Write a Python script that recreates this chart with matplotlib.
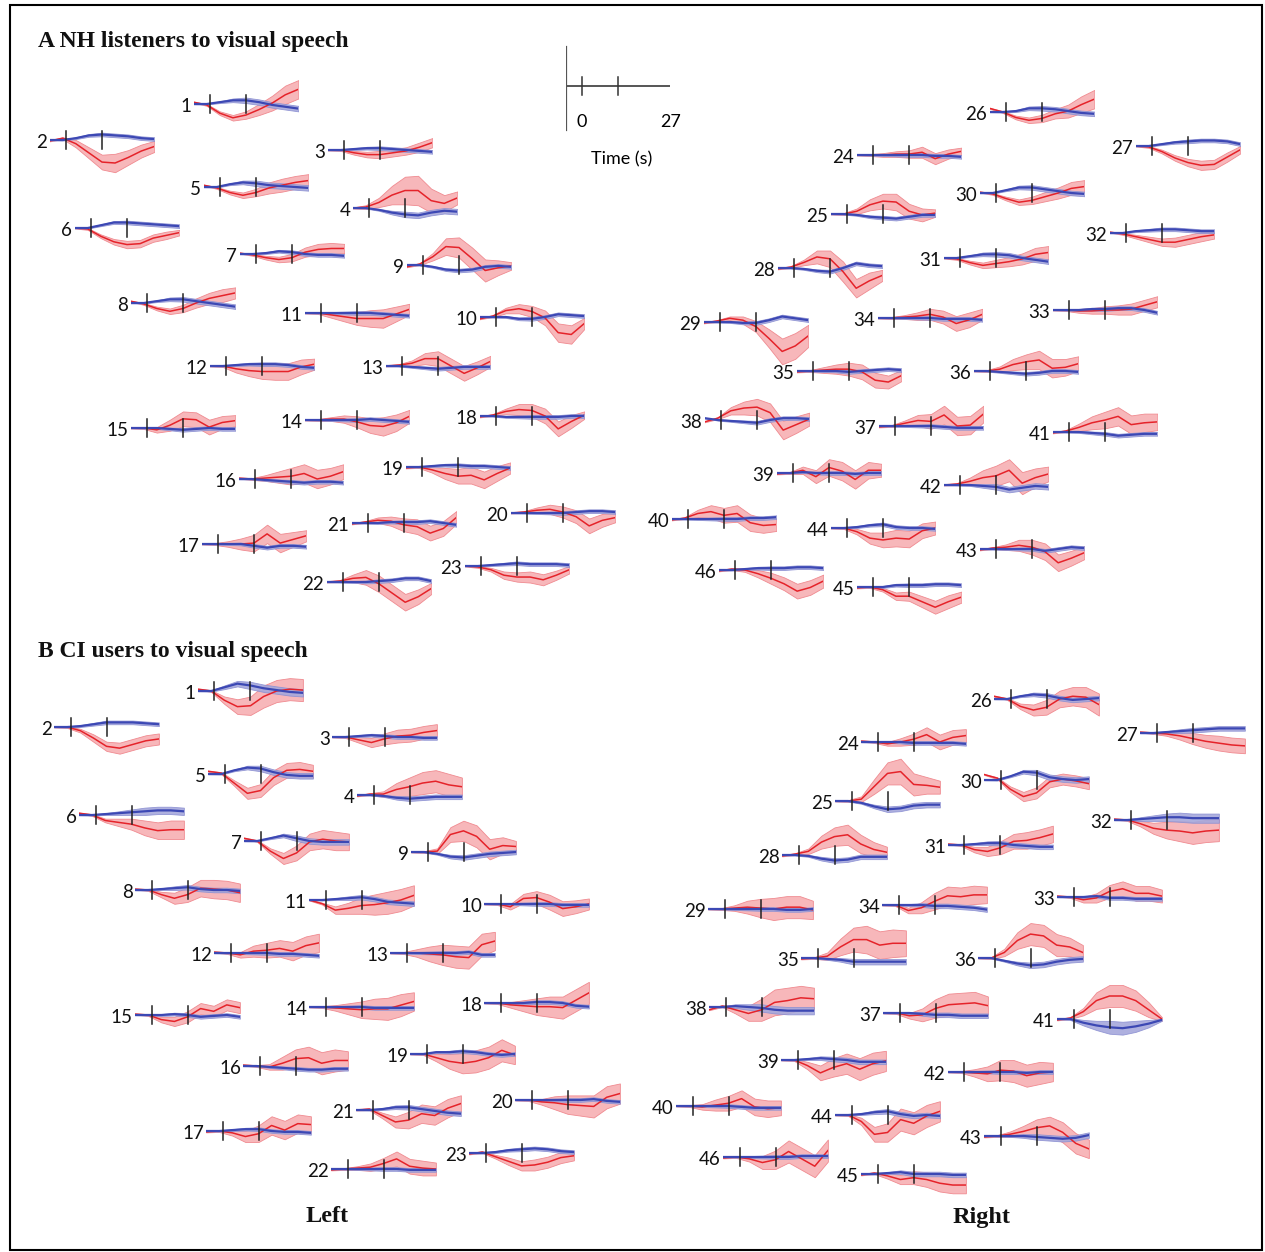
import numpy as np
import matplotlib.pyplot as plt
from matplotlib.patches import Rectangle

W, H = 1265, 1252

# time axis of every channel trace (s); stimulus on/off marks
times = [-5, -1, 3, 7, 11, 15, 19, 23, 27]
stim_on, stim_off = 0, 11
channels = list(range(1, 47))

# ---- A: NH listeners, HbO (red) / HbR (blue) means and standard errors ----
nh_hbo = [
    [2, -1, -10, -15, -12, -6, 1, 10, 16], [-1, 2, -4, -14, -24, -25, -19, -12, -7],
    [0, 0, -3, -5, -5, -3, -1, 3, 8], [0, 1, 6, 14, 19, 19, 8, 5, 11],
    [2, -1, -6, -9, -6, -1, 2, 5, 7], [0, -1, -9, -15, -18, -17, -11, -8, -5],
    [1, -1, -4, -6, -4, 2, 5, 6, 6], [2, -1, -6, -9, -6, 0, 5, 8, 11],
    [-2, 1, 9, 20, 19, 7, -6, -3, -1], [-2, 1, 7, 9, 6, -1, -17, -19, -7],
    [0, 0, -2, -4, -6, -6, -6, -1, 4], [0, 0, -3, -5, -6, -6, -6, -1, 2],
    [0, 1, 3, 8, 8, 0, -8, -2, 5], [0, 0, 1, 1, -2, -6, -7, -3, 4],
    [0, 0, -2, 3, 10, 9, 1, 6, 8], [1, 0, 1, 2, 3, 6, 0, 3, 8],
    [0, 0, 0, 0, 1, 11, 1, 5, 9], [-1, 1, 5, 7, 6, 0, -14, -6, 1],
    [-1, 0, -3, -7, -10, -9, -14, -7, -1], [0, 1, 3, 4, 1, -4, -14, -8, -5],
    [-1, 1, 3, 2, -2, -4, -11, -6, 6], [0, 1, 4, 5, -2, -12, -22, -16, -7],
    [0, -1, -4, -10, -12, -12, -15, -10, -4], [0, 0, 0, 1, 1, 3, -4, 1, 4],
    [0, 0, 3, 10, 14, 13, 3, -1, 1], [4, 0, -6, -9, -7, -2, 1, 8, 14],
    [0, -1, -6, -13, -18, -21, -20, -12, -4], [-1, 1, 6, 12, 10, -4, -22, -14, -8],
    [-1, 1, 4, 2, -5, -18, -32, -26, -15], [1, -1, -6, -10, -8, -4, 0, 5, 7],
    [0, -1, -5, -8, -6, -4, -1, 4, 6], [1, -1, -4, -7, -10, -10, -7, -4, -2],
    [0, 0, -1, -1, 0, 0, 1, 5, 9], [0, 0, 1, 2, 4, 1, -6, -2, 4],
    [-1, 0, 1, 2, 2, -1, -10, -12, -5], [0, 0, 2, 7, 10, 12, 3, 4, 8],
    [-1, 0, 3, 6, 5, 12, 0, 1, 13], [-2, 2, 10, 13, 14, 8, -11, -5, 1],
    [-1, 0, 3, -4, 6, 2, -7, 3, 3], [-1, 1, 6, 8, 4, 6, -4, -7, -6],
    [-1, 1, 5, 10, 13, 17, 8, 10, 11], [0, 1, 4, 8, 10, 16, 2, 8, 12],
    [-1, 1, 2, 4, 2, -3, -15, -10, -4], [0, 0, -4, -11, -13, -11, -12, -3, 0],
    [-1, 0, -3, -10, -10, -16, -22, -16, -11], [-1, 1, 0, -4, -9, -15, -23, -19, -12],
]
nh_hbr = [
    [0, 0, 2, 4, 4, 2, -1, -3, -5], [0, 0, 2, 5, 6, 5, 4, 2, 1],
    [0, 0, 1, 2, 2, 1, 0, -1, -2], [0, 0, -2, -5, -7, -8, -5, -3, -4],
    [0, 0, 3, 5, 4, 2, 1, 0, -1], [0, 0, 3, 6, 6, 5, 4, 3, 2],
    [0, 0, 1, 3, 2, 0, -1, -1, -2], [0, 0, 2, 4, 4, 2, 0, -2, -4],
    [0, 0, -2, -5, -6, -5, -2, -1, -2], [0, 0, 0, -2, -2, 0, 3, 2, 1],
    [0, 0, 0, 0, 0, 0, -1, -2, -3], [0, 0, 1, 2, 2, 2, 1, -1, -2],
    [0, 0, -1, -2, -3, -2, -1, -1, -1], [0, 0, 0, 0, 0, 1, 0, -1, -2],
    [0, 0, 0, -1, -2, -1, 0, -1, -1], [0, 0, -1, -2, -3, -4, -3, -3, -4],
    [0, 0, 0, 0, -2, -4, -2, -2, -3], [0, 0, -1, -1, -1, -1, -1, 0, 0],
    [0, 0, 1, 2, 2, 1, 1, 0, -1], [0, 0, 0, 0, 0, 1, 2, 2, 1],
    [0, 0, 0, 1, 1, 1, 2, 0, -2], [0, 0, 0, 0, 1, 2, 4, 4, 1],
    [0, 0, 1, 2, 3, 2, 2, 2, 1], [0, 0, 0, 0, 0, 0, -1, -1, -2],
    [0, 0, -1, -3, -4, -5, -3, -1, -1], [0, 0, 1, 4, 4, 3, 1, -1, -2],
    [0, 0, 2, 4, 5, 6, 6, 5, 2], [0, 0, -1, -3, -4, 0, 5, 3, 2],
    [0, 0, 0, -1, -1, 2, 6, 4, 2], [0, 0, 3, 6, 6, 4, 2, 0, -1],
    [0, 0, 2, 4, 4, 3, 0, -2, -4], [0, 0, 2, 3, 4, 4, 3, 2, 2],
    [0, 0, 0, 1, 1, 2, 2, 0, -3], [0, 0, 0, 0, 0, -1, -1, -1, -2],
    [0, 0, 0, 0, -1, 0, 1, 2, 1], [0, 0, -1, -2, -3, -2, 0, 0, -1],
    [0, 0, 0, 0, 0, -1, -2, -2, -2], [2, 0, -1, -2, -3, 0, 2, 2, 1],
    [0, 0, 1, 0, 0, 0, -1, 0, 0], [0, 0, 0, 0, 0, 0, 1, 1, 2],
    [0, 0, 0, -1, -2, -4, -3, -2, -2], [0, 0, 0, -1, -2, -5, -3, -1, -2],
    [0, 0, 0, 0, 0, -2, 0, 2, 1], [0, 0, 1, 3, 4, 1, 0, 0, -1],
    [0, 0, 0, 2, 2, 2, 3, 3, 2], [0, 0, 1, 2, 2, 2, 3, 3, 2],
]
nh_hbo_se = [
    [0.5, 1, 2, 3, 4, 6, 8, 10, 10], [0.5, 1, 4, 6, 8, 10, 8, 7, 6],
    [0.5, 1, 2, 3, 4, 4, 4, 5, 5], [0.5, 2, 5, 10, 15, 16, 13, 9, 7],
    [0.5, 1, 2, 3, 4, 6, 7, 7, 7], [0.5, 1, 2, 3, 4, 4, 4, 4, 3],
    [0.5, 1, 2, 3, 4, 5, 6, 6, 5], [0.5, 1, 2, 3, 4, 5, 6, 7, 6],
    [0.5, 1, 4, 9, 11, 12, 12, 8, 4], [0.5, 1, 3, 5, 6, 8, 10, 10, 6],
    [0.5, 1, 3, 5, 7, 9, 10, 8, 6], [0.5, 1, 4, 6, 8, 9, 9, 8, 6],
    [0.5, 1, 3, 6, 8, 8, 8, 7, 6], [0.5, 1, 2, 4, 6, 8, 10, 9, 7],
    [0.5, 1, 3, 6, 8, 8, 8, 7, 6], [0.5, 1, 3, 6, 9, 10, 10, 9, 8],
    [0.5, 1, 3, 6, 9, 10, 10, 8, 6], [0.5, 1, 3, 6, 7, 8, 8, 7, 4],
    [0.5, 1, 3, 6, 8, 9, 9, 8, 6], [0.5, 1, 3, 5, 6, 7, 8, 7, 5],
    [0.5, 1, 3, 5, 7, 8, 8, 8, 7], [0.5, 1, 4, 8, 9, 9, 9, 8, 6],
    [0.5, 1, 2, 4, 5, 6, 6, 5, 4], [0.5, 1, 2, 3, 4, 6, 6, 5, 4],
    [0.5, 1, 3, 6, 8, 9, 8, 7, 4], [0.5, 1, 2, 3, 4, 5, 7, 9, 10],
    [0.5, 1, 2, 3, 4, 5, 5, 5, 4], [0.5, 1, 3, 7, 9, 11, 10, 9, 6],
    [0.5, 1, 2, 4, 6, 10, 14, 14, 12], [0.5, 1, 2, 3, 4, 5, 6, 7, 7],
    [0.5, 1, 2, 3, 4, 5, 6, 7, 7], [0.5, 1, 2, 3, 4, 5, 5, 5, 4],
    [0.5, 1, 2, 3, 4, 5, 6, 6, 6], [0.5, 1, 2, 4, 6, 7, 8, 8, 6],
    [0.5, 1, 3, 5, 7, 8, 8, 7, 6], [0.5, 1, 3, 6, 8, 10, 10, 9, 8],
    [0.5, 1, 3, 6, 8, 10, 10, 10, 9], [0.5, 1, 4, 7, 9, 10, 10, 9, 7],
    [0.5, 1, 4, 7, 9, 10, 10, 9, 7], [0.5, 1, 4, 7, 8, 9, 9, 8, 7],
    [0.5, 1, 4, 7, 9, 10, 10, 10, 9], [0.5, 1, 4, 8, 11, 12, 12, 10, 8],
    [0.5, 1, 3, 6, 8, 9, 9, 8, 7], [0.5, 1, 3, 6, 8, 9, 9, 8, 7],
    [0.5, 1, 2, 4, 5, 6, 7, 7, 6], [0.5, 1, 2, 4, 6, 7, 8, 8, 7],
]
nh_hbr_se = [
    [0.3, 0.6, 1, 2, 3, 3, 3, 3, 3], [0.3, 0.6, 1, 1.5, 2, 2, 2, 2, 2],
    [0.3, 0.6, 1, 1.5, 2, 2, 2, 2, 2], [0.3, 0.6, 1, 2, 3, 3, 3, 3, 3],
    [0.3, 0.6, 1, 2, 3, 3, 3, 3, 3], [0.3, 0.6, 1, 1.5, 2, 2, 2, 2, 2],
    [0.3, 0.6, 1, 1.5, 2, 2, 2, 2, 2], [0.3, 0.6, 1, 2, 2.5, 2.5, 2.5, 2.5, 2.5],
    [0.3, 0.6, 1, 1.5, 2, 2, 2, 2, 2], [0.3, 0.6, 1, 1.5, 2, 2, 2, 2, 2],
    [0.3, 0.6, 1, 1.5, 2, 2, 2, 2, 2], [0.3, 0.6, 1, 1.5, 2, 2, 2, 2, 2],
    [0.3, 0.6, 1, 1.5, 2, 2, 2, 2, 2], [0.3, 0.6, 1, 1.5, 2, 2, 2, 2, 2],
    [0.3, 0.6, 1, 1.5, 2, 2, 2, 2, 2], [0.3, 0.6, 1, 1.5, 2, 2, 2, 2, 2],
    [0.3, 0.6, 1, 1.5, 2, 2, 2, 2, 2], [0.3, 0.6, 1, 1.5, 2, 2, 2, 2, 2],
    [0.3, 0.6, 1, 1.5, 2, 2, 2, 2, 2], [0.3, 0.6, 1, 1.5, 2, 2, 2, 2, 2],
    [0.3, 0.6, 1, 1.5, 2, 2, 2, 2, 2], [0.3, 0.6, 1, 1.5, 2, 2, 2, 2, 2],
    [0.3, 0.6, 1, 1.5, 2, 2, 2, 2, 2], [0.3, 0.6, 1, 1.5, 2, 2, 2, 2, 2],
    [0.3, 0.6, 1, 1.5, 2, 2, 2, 2, 2], [0.3, 0.6, 1, 2, 2.5, 2.5, 2.5, 2.5, 2.5],
    [0.3, 0.6, 1, 1.5, 2, 2, 2, 2, 2], [0.3, 0.6, 1, 1.5, 2, 2, 2, 2, 2],
    [0.3, 0.6, 1, 1.5, 2, 2, 2, 2, 2], [0.3, 0.6, 1, 2, 2.5, 2.5, 2.5, 2.5, 2.5],
    [0.3, 0.6, 1, 2, 2.5, 2.5, 2.5, 2.5, 2.5], [0.3, 0.6, 1, 1.5, 2, 2, 2, 2, 2],
    [0.3, 0.6, 1, 1.5, 2, 2, 2, 2, 2], [0.3, 0.6, 1, 1.5, 2, 2, 2, 2, 2],
    [0.3, 0.6, 1, 1.5, 2, 2, 2, 2, 2], [0.3, 0.6, 1, 1.5, 2, 2, 2, 2, 2],
    [0.3, 0.6, 1, 1.5, 2, 2, 2, 2, 2], [0.3, 0.6, 1, 1.5, 2, 2, 2, 2, 2],
    [0.3, 0.6, 1, 1.5, 2, 2, 2, 2, 2], [0.3, 0.6, 1, 1.5, 2, 2, 2, 2, 2],
    [0.3, 0.6, 1, 1.5, 2, 2, 2, 2, 2], [0.3, 0.6, 1, 2, 3, 3, 3, 3, 3],
    [0.3, 0.6, 1, 1.5, 2, 2, 2, 2, 2], [0.3, 0.6, 1, 1.5, 2, 2, 2, 2, 2],
    [0.3, 0.6, 1, 1.5, 2, 2, 2, 2, 2], [0.3, 0.6, 1, 1.5, 2, 2, 2, 2, 2],
]

# ---- B: CI users ----
ci_hbo = [
    [2, 0, -10, -17, -16, -6, 0, 2, 1], [0, 0, -4, -12, -21, -23, -19, -15, -13],
    [0, 0, -3, -6, -2, 1, 2, 5, 7], [-1, 1, 1, 6, 9, 13, 15, 11, 9],
    [3, 1, -10, -21, -18, -4, 4, 5, 3], [2, 0, -6, -8, -10, -14, -17, -16, -16],
    [3, 0, -11, -19, -13, -1, 2, 0, -1], [1, 0, -5, -9, -5, 2, 1, 0, -3],
    [0, 0, 1, 19, 23, 17, 3, 7, 6], [0, 0, -3, 6, 7, 2, -5, -3, 0],
    [0, -4, -11, -9, -6, -5, -3, 0, 5], [1, 0, -2, 2, 3, 5, 2, 8, 11],
    [0, 0, 0, -1, -2, -4, -5, 9, 13], [0, 0, -1, -2, -3, -2, -2, 2, 6],
    [1, 0, -5, -7, -2, 7, 4, 11, 8], [1, 0, -1, 3, 8, 9, 3, 6, 6],
    [-1, 0, -2, -6, -3, 6, 1, 8, 7], [0, 0, -2, -3, -4, -4, -5, 3, 11],
    [0, 0, -4, -8, -10, -8, -4, 4, -1], [0, 0, -2, -3, -5, -6, -7, 3, 7],
    [0, 1, -6, -13, -11, -4, -6, 2, 7], [-1, 0, 1, 2, 6, 11, 3, 1, 0],
    [-1, 1, -4, -9, -14, -13, -10, -5, -3], [1, 0, -2, 0, 3, 8, 0, 5, 7],
    [0, 0, 2, 16, 30, 32, 18, 17, 15], [3, 0, -8, -12, -9, 0, 3, 2, -6],
    [1, 0, -1, -3, -6, -9, -11, -13, -14], [-1, 1, 4, 14, 20, 22, 12, 6, 3],
    [0, 0, 1, 2, 1, 0, 2, 2, -1], [6, 2, -10, -18, -14, -2, 1, -1, -4],
    [1, 0, -5, -7, -3, 4, 5, 8, 12], [1, 0, -4, -9, -11, -12, -14, -12, -11],
    [1, 0, -3, -1, 6, 9, 4, 4, 1], [0, 0, -6, -3, 4, 10, 9, 11, 11],
    [-1, 0, 2, 12, 20, 20, 14, 16, 16], [0, 0, 6, 19, 26, 24, 14, 12, 6],
    [0, 0, -3, -2, 5, 9, 10, 11, 8], [-3, 1, -3, -7, -3, 5, 7, 10, 9],
    [0, 0, -6, -14, -8, -4, -10, -4, -1], [0, 0, -1, 1, 3, 8, -1, -3, -2],
    [-1, 1, 8, 20, 25, 25, 20, 10, 0], [0, 0, -1, -2, 2, 1, -4, -1, 0],
    [-1, 0, 2, 5, 9, 11, 4, -8, -14], [0, 0, -7, -21, -19, -5, -9, -1, 4],
    [-1, 1, -2, -6, -4, -6, -10, -12, -12], [-1, 0, -2, -6, -3, 6, -2, -10, 7],
]
ci_hbr = [
    [0, 0, 4, 8, 6, 3, 1, -1, -2], [0, 0, 1, 3, 5, 5, 5, 4, 3],
    [0, 0, 1, 2, 1, 0, 0, -1, -1], [0, 0, -1, -3, -4, -3, -2, -2, -2],
    [0, 0, 4, 7, 6, 2, -1, -2, -2], [0, 0, 1, 2, 3, 4, 5, 5, 4],
    [0, 0, 3, 6, 3, 0, -1, -1, -1], [0, 0, 1, 2, 3, 1, 0, 0, -1],
    [0, 0, -2, -5, -6, -4, -2, -1, 0], [0, 0, 0, 0, 0, 0, -1, -1, -1],
    [0, 0, 1, 2, 3, 1, -2, -3, -4], [0, 0, 0, 0, 0, -1, -1, -2, -3],
    [0, 0, 0, 0, 0, 0, 1, -2, -2], [0, 0, 0, 0, 0, -1, -1, -1, -1],
    [0, 0, 0, 1, 0, -2, -1, 0, -2], [0, 0, -1, -2, -3, -4, -4, -3, -3],
    [0, 0, 1, 2, 2, 0, -1, -1, -2], [0, 0, 0, 0, 1, 1, 0, -3, -4],
    [0, 0, 2, 2, 3, 2, 0, -1, 0], [0, 0, 0, 0, 0, 0, 1, -1, -2],
    [0, 0, 1, 3, 3, 1, -1, -3, -4], [0, 0, 0, 0, 0, 0, -1, -1, -1],
    [0, 0, 1, 3, 4, 5, 4, 2, 1], [0, 0, 0, 0, -1, -1, -1, -1, -2],
    [0, 0, -2, -6, -9, -8, -5, -4, -4], [0, 0, 3, 5, 4, 1, -1, 0, 1],
    [0, 0, 1, 2, 3, 4, 5, 5, 5], [0, 0, -1, -4, -6, -5, -2, -2, -2],
    [0, 0, 0, 0, 0, 0, -1, -1, 0], [0, 0, 4, 9, 8, 3, 1, 0, 1],
    [0, 0, 1, 2, 2, 0, -1, -2, -2], [0, 0, 1, 2, 3, 3, 2, 2, 2],
    [0, 0, 0, 1, -1, -1, -2, -2, -2], [0, 0, 0, 0, -1, -1, -2, -3, -5],
    [0, 0, -1, -2, -4, -4, -4, -4, -4], [0, 0, -3, -6, -8, -7, -4, -2, -1],
    [0, 0, 0, -1, -2, -2, -3, -3, -3], [0, 0, 1, 0, -1, -3, -4, -4, -4],
    [0, 0, 1, 2, 1, 0, -2, -2, -2], [0, 0, 0, 0, 0, -1, -2, -2, -2],
    [0, 0, -4, -7, -9, -10, -8, -5, -1], [0, 0, 0, 0, 0, 0, -1, 0, 0],
    [0, 0, 0, 0, -1, -2, -3, -2, 1], [0, 0, 1, 3, 4, 1, -1, 0, -1],
    [0, 0, 1, 2, 0, 0, 0, -1, -1], [0, 0, 0, 0, 0, 0, 1, 1, 1],
]
ci_hbo_se = [
    [0.5, 1, 4, 8, 10, 12, 12, 12, 12], [0.5, 1, 2, 4, 5, 6, 6, 6, 6],
    [0.5, 1, 3, 5, 6, 7, 7, 7, 7], [0.5, 1, 3, 7, 10, 12, 12, 12, 10],
    [0.5, 1, 3, 6, 7, 8, 8, 8, 7], [0.5, 1, 2, 4, 6, 8, 9, 10, 10],
    [0.5, 1, 3, 6, 8, 9, 10, 10, 9], [0.5, 1, 3, 6, 8, 9, 10, 10, 10],
    [0.5, 1, 3, 8, 11, 12, 11, 9, 6], [0.5, 1, 3, 5, 7, 8, 8, 7, 6],
    [0.5, 1, 4, 6, 9, 11, 12, 12, 11], [0.5, 1, 3, 6, 8, 9, 10, 10, 10],
    [0.5, 1, 4, 8, 11, 12, 12, 12, 10], [0.5, 1, 3, 6, 9, 11, 12, 12, 10],
    [0.5, 1, 3, 5, 6, 6, 6, 6, 6], [0.5, 1, 3, 7, 10, 12, 12, 12, 10],
    [0.5, 1, 3, 6, 9, 10, 10, 10, 9], [0.5, 1, 3, 6, 9, 11, 12, 12, 12],
    [0.5, 1, 4, 8, 11, 12, 12, 12, 10], [0.5, 1, 3, 7, 10, 11, 12, 12, 11],
    [0.5, 1, 3, 6, 9, 10, 10, 10, 9], [0.5, 1, 2, 4, 6, 8, 8, 8, 7],
    [0.5, 1, 2, 4, 5, 6, 6, 6, 5], [0.5, 1, 2, 4, 6, 8, 8, 8, 7],
    [0.5, 1, 3, 8, 12, 14, 12, 9, 7], [0.5, 1, 3, 6, 8, 9, 10, 11, 12],
    [0.5, 1, 2, 4, 6, 7, 8, 8, 8], [0.5, 1, 3, 7, 10, 11, 10, 8, 6],
    [0.5, 1, 3, 7, 10, 12, 12, 12, 10], [0.5, 1, 3, 5, 6, 6, 6, 6, 6],
    [0.5, 1, 3, 5, 7, 8, 9, 9, 9], [0.5, 1, 3, 6, 9, 11, 12, 12, 12],
    [0.5, 1, 3, 5, 7, 8, 8, 8, 7], [0.5, 1, 3, 6, 9, 10, 10, 10, 9],
    [0.5, 1, 4, 9, 13, 15, 15, 15, 14], [0.5, 1, 4, 9, 12, 12, 12, 10, 8],
    [0.5, 1, 3, 7, 10, 12, 12, 12, 10], [0.5, 1, 4, 8, 12, 14, 14, 13, 12],
    [0.5, 1, 4, 8, 10, 11, 12, 12, 11], [0.5, 1, 3, 6, 8, 9, 9, 9, 8],
    [0.5, 1, 4, 9, 12, 12, 11, 8, 2], [0.5, 1, 4, 8, 11, 12, 12, 12, 10],
    [0.5, 1, 3, 6, 9, 10, 11, 11, 10], [0.5, 1, 4, 8, 10, 12, 12, 12, 11],
    [0.5, 1, 3, 5, 7, 8, 9, 9, 9], [0.5, 1, 3, 7, 10, 12, 12, 12, 12],
]
ci_hbr_se = [
    [0.3, 0.6, 2, 3, 4, 4, 4, 4, 4], [0.3, 0.6, 1, 1.5, 2, 2, 2, 2, 2],
    [0.3, 0.6, 1, 1.5, 2, 2, 2, 2, 2], [0.3, 0.6, 1, 2, 2.5, 2.5, 2.5, 2.5, 2.5],
    [0.3, 0.6, 1, 2, 3, 3, 3, 3, 3], [0.3, 0.6, 1, 2, 3, 4, 4, 4, 4],
    [0.3, 0.6, 1, 2, 3, 3, 3, 3, 3], [0.3, 0.6, 1, 2, 2.5, 2.5, 2.5, 2.5, 2.5],
    [0.3, 0.6, 1, 2, 2.5, 2.5, 2.5, 2.5, 2.5], [0.3, 0.6, 1, 1.5, 2, 2, 2, 2, 2],
    [0.3, 0.6, 1, 2, 2.5, 2.5, 2.5, 2.5, 2.5], [0.3, 0.6, 1, 1.5, 2, 2, 2, 2, 2],
    [0.3, 0.6, 1, 1.5, 2, 2, 2, 2, 2], [0.3, 0.6, 1, 1.5, 2, 2, 2, 2, 2],
    [0.3, 0.6, 1, 1.5, 2, 2, 2, 2, 2], [0.3, 0.6, 1, 1.5, 2, 2, 2, 2, 2],
    [0.3, 0.6, 1, 1.5, 2, 2, 2, 2, 2], [0.3, 0.6, 1, 1.5, 2, 2, 2, 2, 2],
    [0.3, 0.6, 1, 1.5, 2, 2, 2, 2, 2], [0.3, 0.6, 1, 1.5, 2, 2, 2, 2, 2],
    [0.3, 0.6, 1, 2, 2.5, 2.5, 2.5, 2.5, 2.5], [0.3, 0.6, 1, 1.5, 2, 2, 2, 2, 2],
    [0.3, 0.6, 1, 1.5, 2, 2, 2, 2, 2], [0.3, 0.6, 1, 1.5, 2, 2, 2, 2, 2],
    [0.3, 0.6, 1, 2, 3, 3, 3, 3, 3], [0.3, 0.6, 1, 2, 2.5, 2.5, 2.5, 2.5, 2.5],
    [0.3, 0.6, 1, 2, 2.5, 2.5, 2.5, 2.5, 2.5], [0.3, 0.6, 1, 2, 2.5, 2.5, 2.5, 2.5, 2.5],
    [0.3, 0.6, 1, 1.5, 2, 2, 2, 2, 2], [0.3, 0.6, 1, 2, 3, 3, 3, 3, 3],
    [0.3, 0.6, 1, 2, 2.5, 2.5, 2.5, 2.5, 2.5], [0.3, 0.6, 2, 3, 4, 5, 5, 5, 5],
    [0.3, 0.6, 1, 1.5, 2, 2, 2, 2, 2], [0.3, 0.6, 1, 2, 2.5, 2.5, 2.5, 2.5, 2.5],
    [0.3, 0.6, 1, 2, 3, 3, 3, 3, 3], [0.3, 0.6, 1, 2, 3, 3, 3, 3, 3],
    [0.3, 0.6, 1, 2, 2.5, 2.5, 2.5, 2.5, 2.5], [0.3, 0.6, 2, 3, 4, 4, 4, 4, 4],
    [0.3, 0.6, 1, 2, 2.5, 2.5, 2.5, 2.5, 2.5], [0.3, 0.6, 1, 1.5, 2, 2, 2, 2, 2],
    [0.3, 1, 3, 5, 7, 7, 6, 4, 1], [0.3, 0.6, 1, 1.5, 2, 2, 2, 2, 2],
    [0.3, 0.6, 1, 2, 3, 3, 3, 3, 3], [0.3, 0.6, 1, 2, 2.5, 2.5, 2.5, 2.5, 2.5],
    [0.3, 0.6, 1, 2, 2.5, 2.5, 2.5, 2.5, 2.5], [0.3, 0.6, 1, 1.5, 2, 2, 2, 2, 2],
]

# layout: pixel position of onset tick (x) and baseline (y) for each channel in panel A
pos_x = [210, 66, 344, 369, 220, 91, 256, 147, 423, 496, 321, 226, 402, 321, 147, 255,
         218, 496, 422, 527, 368, 343, 481, 873, 847, 1006, 1152, 794, 720, 996, 960,
         1126, 1069, 894, 813, 990, 895, 721, 793, 688, 1069, 960, 996, 847, 873, 735]
pos_y = [104, 140, 150, 208, 187, 228, 254, 303, 265, 317, 313, 366, 366, 420, 428, 479,
         544, 416, 467, 513, 523, 582, 566, 155, 214, 112, 146, 268, 322, 193, 258,
         233, 310, 318, 371, 371, 426, 420, 473, 519, 432, 485, 549, 528, 587, 570]
shift_b = (4.5, 587)

px_per_s = 36 / 11.0
unit_px = 0.92
half = 60

red, red_fill, red_edge = '#e5232a', '#f7b7ba', '#f08a90'
blue, blue_fill, blue_edge = '#3c48b4', '#a5a8dc', '#8c90d2'

fig = plt.figure(figsize=(W / 100, H / 100), dpi=100)


def mini(xt, yb):
    left = xt + times[0] * px_per_s
    width = (times[-1] - times[0]) * px_per_s
    ax = fig.add_axes([left / W, 1 - (yb + half * unit_px) / H, width / W, 2 * half * unit_px / H])
    ax.set_xlim(times[0], times[-1])
    ax.set_ylim(-half, half)
    ax.axis('off')
    return ax


def draw_panel(hbo, hbr, hbo_se, hbr_se, dx, dy):
    for i, ch in enumerate(channels):
        ax = mini(pos_x[i] + dx, pos_y[i] + dy)
        o, r = np.array(hbo[i], float), np.array(hbr[i], float)
        so, sr = np.array(hbo_se[i], float), np.array(hbr_se[i], float)
        ax.fill_between(times, o - so, o + so, facecolor=red_fill, edgecolor=red_edge, lw=0.6, zorder=1)
        ax.fill_between(times, r - sr, r + sr, facecolor=blue_fill, edgecolor=blue_edge, lw=0.6, alpha=0.9, zorder=2)
        ax.plot(times, o, color=red, lw=1.1, solid_joinstyle='round', zorder=3)
        ax.plot(times, r, color=blue, lw=1.6, solid_joinstyle='round', zorder=4)
        for s in (stim_on, stim_off):
            ax.axvline(s, 0.42, 0.58, color='#222222', lw=1.1, zorder=5)
        ax.text(times[0] - 0.7, -2.5, str(ch), ha='right', va='center',
                fontsize=13.5, family='Lato', color='#111111')


draw_panel(nh_hbo, nh_hbr, nh_hbo_se, nh_hbr_se, 0, 0)
draw_panel(ci_hbo, ci_hbr, ci_hbo_se, ci_hbr_se, *shift_b)

# time scale bar
sb = mini(582, 86)
sb.axhline(0, color='#555555', lw=1.4)
sb.axvline(times[0], (half - 44 / unit_px) / (2 * half), (half + 39 / unit_px) / (2 * half), color='#555555', lw=1.6)
for s in (stim_on, stim_off):
    sb.axvline(s, 0.42, 0.58, color='#333333', lw=1.1)
sb.text(stim_on, -36 / unit_px, '0', ha='center', va='center', fontsize=13, family='Lato')
sb.text(times[-1], -36 / unit_px, '27', ha='center', va='center', fontsize=13, family='Lato')
sb.text(12, -73 / unit_px, 'Time (s)', ha='center', va='center', fontsize=13, family='Lato')

serif = dict(family='Liberation Serif', weight='bold', color='#111111')
fig.text(38 / W, 1 - 41 / H, 'A NH listeners to visual speech', ha='left', va='center', fontsize=17, **serif)
fig.text(38 / W, 1 - 651 / H, 'B CI users to visual speech', ha='left', va='center', fontsize=17, **serif)
fig.text(327 / W, 1 - 1217 / H, 'Left', ha='center', va='center', fontsize=17.5, **serif)
fig.text(982 / W, 1 - 1217 / H, 'Right', ha='center', va='center', fontsize=17.5, **serif)

fig.patches.append(Rectangle((10 / W, 2 / H), 1252 / W, 1245 / H, transform=fig.transFigure,
                             fill=False, edgecolor='black', lw=1.5))

fig.savefig('out.png', dpi=100)
